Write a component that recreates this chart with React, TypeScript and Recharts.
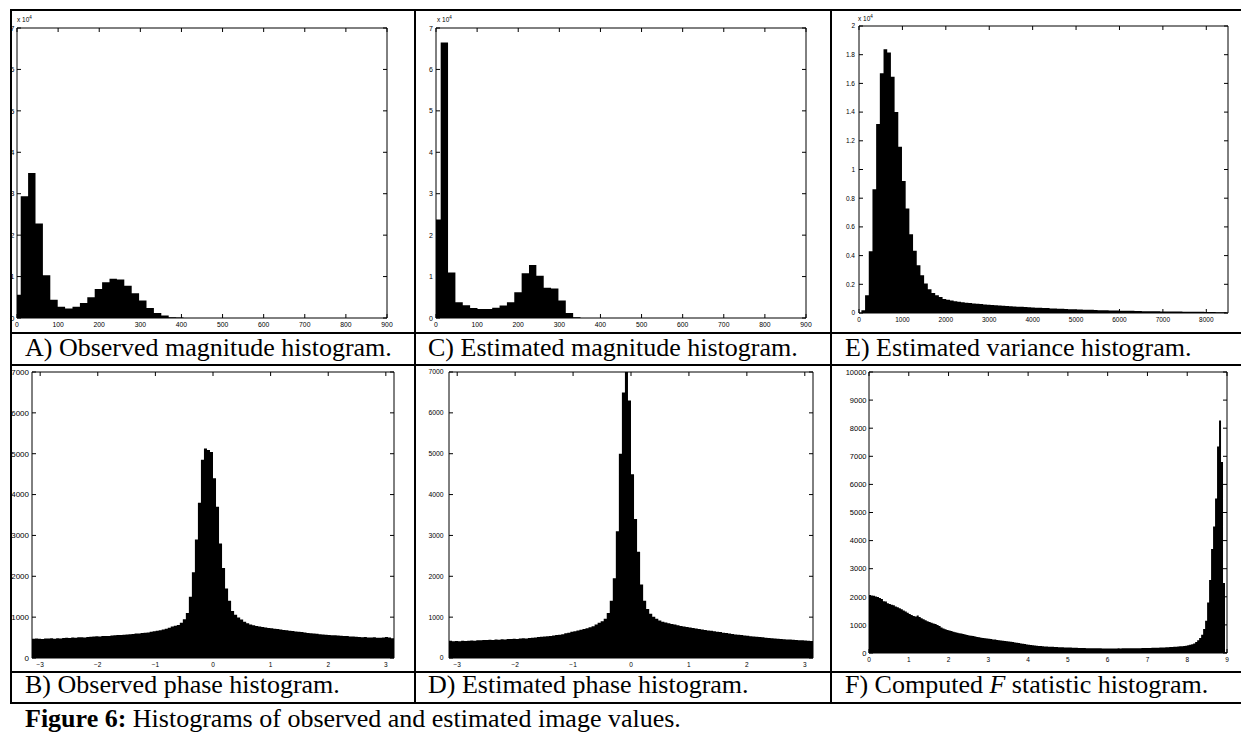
import { AreaChart, Area, XAxis, YAxis } from 'recharts'

// Bin counts. Magnitude and variance panels are in units of 1e4,
// as their y axes are labelled.
const A_BIN_START = -9
const A_BIN_WIDTH = 18
const A_COUNTS = [0.56, 2.94, 3.5, 2.28, 1.03, 0.44, 0.27, 0.23, 0.27, 0.36, 0.5, 0.7, 0.86, 0.95, 0.93, 0.78, 0.6, 0.42, 0.24, 0.12, 0.06, 0.02, 0.01]

const C_BIN_START = -6.5
const C_BIN_WIDTH = 17.9
const C_COUNTS = [2.38, 6.65, 1.1, 0.38, 0.31, 0.24, 0.22, 0.22, 0.25, 0.3, 0.38, 0.62, 1.08, 1.28, 1.02, 0.73, 0.71, 0.42, 0.12, 0.02]

const E_BIN_START = 55
const E_BIN_WIDTH = 85
const E_COUNTS = [
  0.019, 0.123, 0.43, 0.863, 1.317, 1.67, 1.838, 1.815, 1.647, 1.4,
  1.158, 0.92, 0.728, 0.549, 0.433, 0.333, 0.263, 0.205, 0.165, 0.14,
  0.123, 0.112, 0.098, 0.092, 0.087, 0.082, 0.079, 0.075, 0.072, 0.069,
  0.066, 0.064, 0.062, 0.06, 0.058, 0.056, 0.054, 0.052, 0.05, 0.049,
  0.047, 0.046, 0.044, 0.043, 0.041, 0.04, 0.039, 0.037, 0.036, 0.035,
  0.034, 0.032, 0.031, 0.03, 0.029, 0.028, 0.027, 0.026, 0.025, 0.024,
  0.023, 0.023, 0.022, 0.021, 0.02, 0.02, 0.019, 0.018, 0.018, 0.017,
  0.016, 0.016, 0.015, 0.015, 0.014, 0.014, 0.013, 0.013, 0.012, 0.012,
  0.012, 0.011, 0.011, 0.011, 0.01, 0.01, 0.01, 0.009, 0.009, 0.009,
  0.008, 0.008, 0.008, 0.007, 0.007, 0.007, 0.006, 0.006, 0.005,
]

// phase panels: 120 bins over [-pi, pi]
const PHASE_BIN_START = -Math.PI
const PHASE_BIN_WIDTH = (2 * Math.PI) / 120
const B_COUNTS = [
  470, 478, 472, 466, 480, 476, 483, 474, 486, 480,
  490, 494, 488, 501, 496, 505, 510, 503, 514, 518,
  524, 531, 526, 536, 541, 537, 549, 554, 560, 566,
  571, 578, 583, 590, 597, 602, 611, 618, 627, 640,
  652, 664, 680, 698, 716, 742, 768, 790, 810, 860,
  950, 1100, 1500, 2100, 2900, 3800, 4850, 5130, 5090, 5040,
  4400, 3700, 2800, 2200, 1700, 1400, 1150, 1060, 990, 940,
  890, 852, 823, 801, 783, 770, 756, 748, 735, 726,
  716, 707, 700, 688, 681, 668, 662, 650, 642, 634,
  626, 614, 607, 598, 592, 580, 577, 569, 566, 558,
  555, 548, 546, 538, 536, 529, 526, 519, 516, 510,
  512, 503, 500, 507, 498, 494, 502, 511, 503, 486,
]
const D_COUNTS = [
  420, 412, 418, 410, 425, 416, 422, 430, 424, 432,
  436, 441, 438, 447, 443, 452, 449, 458, 455, 462,
  466, 471, 468, 478, 484, 480, 490, 497, 503, 512,
  518, 526, 533, 541, 552, 560, 571, 583, 605, 620,
  640, 655, 672, 690, 710, 730, 752, 780, 820, 860,
  900, 960, 1100, 1400, 1950, 3100, 5000, 6500, 7400, 6300,
  4500, 3400, 2600, 1800, 1400, 1200, 1080, 1010, 960, 920,
  890, 868, 851, 832, 818, 801, 786, 772, 760, 746,
  733, 722, 708, 698, 686, 676, 664, 655, 643, 634,
  620, 611, 598, 590, 578, 570, 561, 552, 544, 534,
  527, 518, 512, 505, 497, 490, 484, 478, 472, 466,
  460, 455, 450, 447, 441, 437, 432, 428, 424, 418,
]

const F_BIN_START = 0
const F_BIN_WIDTH = 0.05
const F_COUNTS = [
  2060, 2045, 2040, 2015, 1995, 1960, 1925, 1845, 1830, 1770,
  1745, 1720, 1695, 1655, 1625, 1590, 1560, 1515, 1480, 1430,
  1385, 1355, 1320, 1295, 1335, 1280, 1235, 1200, 1165, 1130,
  1100, 1075, 1050, 1030, 995, 960, 905, 870, 845, 820,
  800, 785, 760, 742, 720, 704, 690, 672, 655, 641,
  626, 612, 601, 584, 572, 561, 546, 535, 526, 515,
  505, 497, 484, 476, 466, 455, 447, 437, 431, 420,
  412, 401, 391, 377, 366, 353, 341, 330, 319, 306,
  296, 286, 276, 268, 259, 252, 246, 239, 235, 229,
  226, 221, 218, 214, 212, 207, 205, 202, 200, 197,
  195, 193, 190, 186, 185, 181, 180, 177, 176, 173,
  172, 170, 169, 167, 167, 165, 165, 164, 164, 163,
  163, 162, 164, 163, 164, 165, 163, 165, 166, 165,
  166, 167, 168, 167, 170, 171, 172, 174, 175, 178,
  180, 182, 184, 186, 188, 191, 194, 197, 200, 204,
  208, 212, 216, 220, 225, 230, 236, 243, 250, 258,
  275, 290, 310, 340, 390, 450, 530, 650, 850, 1150,
  1800, 2600, 3700, 4500, 5500, 7350, 8270, 6800, 2490, 30,
]

const MAG_X_TICKS = [0, 100, 200, 300, 400, 500, 600, 700, 800, 900]
const MAG_Y_TICKS = [0, 1, 2, 3, 4, 5, 6, 7]
const VAR_X_TICKS = [0, 1000, 2000, 3000, 4000, 5000, 6000, 7000, 8000]
const VAR_Y_TICKS = [0, 0.2, 0.4, 0.6, 0.8, 1, 1.2, 1.4, 1.6, 1.8, 2]
const PHASE_X_TICKS = [-3, -2, -1, 0, 1, 2, 3]
const PHASE_Y_TICKS = [0, 1000, 2000, 3000, 4000, 5000, 6000, 7000]
const F_X_TICKS = [0, 1, 2, 3, 4, 5, 6, 7, 8, 9]
const F_Y_TICKS = [0, 1000, 2000, 3000, 4000, 5000, 6000, 7000, 8000, 9000, 10000]

const SANS = '"Liberation Sans", Arial, sans-serif'
const SERIF = '"Liberation Serif", "Times New Roman", serif'
const TICK_LEN = 4

// histogram as step outline: left edge of each bin, plus a closing edge
function toSteps(start: number, width: number, counts: number[]) {
  const pts = counts.map((c, i) => ({ x: start + i * width, y: c }))
  pts.push({ x: start + counts.length * width, y: 0 })
  return pts
}

const minusFmt = (v: number) => (v < 0 ? `\u2212${-v}` : `${v}`)

// matlab-style tick: short inward mark at the axis position, optional label outside.
// tickSize/tickMargin are 0 so recharts hands us the point on the box edge.
type Side = 'bottom' | 'top' | 'left' | 'right'
function boxTick(side: Side, font = 0, fmt?: (v: number) => string, gap = 3.5) {
  return (p: any) => {
    const { x, y, payload } = p
    const label = font ? (fmt ? fmt(payload.value) : String(payload.value)) : null
    let line
    let text = null
    if (side === 'bottom') {
      line = <line x1={x} x2={x} y1={y} y2={y - TICK_LEN} stroke="#000" />
      if (label) text = <text x={x} y={y + 7 + font * 0.36} textAnchor="middle">{label}</text>
    } else if (side === 'top') {
      line = <line x1={x} x2={x} y1={y} y2={y + TICK_LEN} stroke="#000" />
    } else if (side === 'left') {
      line = <line x1={x} x2={x + TICK_LEN} y1={y} y2={y} stroke="#000" />
      if (label) text = <text x={x - gap} y={y + font * 0.36} textAnchor="end">{label}</text>
    } else {
      line = <line x1={x} x2={x - TICK_LEN} y1={y} y2={y} stroke="#000" />
    }
    return (
      <g fontFamily={SANS} fontSize={font} fill="#000">
        {line}
        {text}
      </g>
    )
  }
}

type HistProps = {
  box: { left: number; top: number; w: number; h: number }
  data: { x: number; y: number }[]
  xDomain: [number, number]
  xTicks: number[]
  yDomain: [number, number]
  yTicks: number[]
  leftW: number
  bottomH: number
  mTop: number
  mRight: number
  xFont: number
  yFont: number
  yGap?: number
  xFmt?: (v: number) => string
}

// top and right axes are 1px strips so they still draw (they close the box)
function Hist({ box, data, xDomain, xTicks, yDomain, yTicks, leftW, bottomH, mTop, mRight, xFont, yFont, yGap, xFmt }: HistProps) {
  const common = { allowDataOverflow: true, interval: 0 as const, tickSize: 0, tickMargin: 0, tickLine: false, stroke: '#000' }
  return (
    <div style={{ position: 'absolute', left: box.left, top: box.top }}>
      <AreaChart width={box.w} height={box.h} data={data} margin={{ top: mTop - 1, right: mRight - 1, bottom: 0, left: 0 }}>
        <XAxis type="number" dataKey="x" domain={xDomain} ticks={xTicks} height={bottomH}
          tick={boxTick('bottom', xFont, xFmt)} {...common} />
        <XAxis xAxisId="top" orientation="top" type="number" dataKey="x" domain={xDomain} ticks={xTicks}
          height={1} tick={boxTick('top')} {...common} />
        <YAxis type="number" domain={yDomain} ticks={yTicks} width={leftW}
          tick={boxTick('left', yFont, undefined, yGap)} {...common} />
        <YAxis yAxisId="right" orientation="right" type="number" domain={yDomain} ticks={yTicks}
          width={1} tick={boxTick('right')} {...common} />
        <Area type="stepAfter" dataKey="y" stroke="none" fill="#000" fillOpacity={1}
          isAnimationActive={false} dot={false} activeDot={false} />
        {/* invisible twin so the top and right box axes have a series */}
        <Area xAxisId="top" yAxisId="right" type="stepAfter" dataKey="y" stroke="none" fill="none"
          isAnimationActive={false} dot={false} activeDot={false} />
      </AreaChart>
    </div>
  )
}

function Exp({ left, top }: { left: number; top: number }) {
  return (
    <div style={{ position: 'absolute', left, top, fontFamily: SANS, fontSize: 6.5, lineHeight: '8px', whiteSpace: 'nowrap' }}>
      x 10<span style={{ fontSize: 4.5, position: 'relative', top: -3 }}>4</span>
    </div>
  )
}

const H_LINES = [9, 332, 364, 671, 702]
const V_LINES = [10, 414, 830]

function Caption({ left, top, children }: { left: number; top: number; children: any }) {
  return (
    <div style={{ position: 'absolute', left, top, fontFamily: SERIF, fontSize: 26, lineHeight: '26px', whiteSpace: 'nowrap' }}>
      {children}
    </div>
  )
}

export default function App() {
  return (
    <div style={{ position: 'absolute', left: 0, top: 0, width: 1241, height: 732, background: '#fff', overflow: 'hidden' }}>
      <Hist box={{ left: 0, top: 0, w: 414, h: 332 }} data={toSteps(A_BIN_START, A_BIN_WIDTH, A_COUNTS)}
        xDomain={[0, 900]} xTicks={MAG_X_TICKS} yDomain={[0, 7]} yTicks={MAG_Y_TICKS}
        leftW={17} bottomH={14} mTop={28} mRight={27} xFont={6.8} yFont={7.5} yGap={2.5} />
      <Exp left={17} top={16} />
      <Hist box={{ left: 414, top: 0, w: 416, h: 332 }} data={toSteps(C_BIN_START, C_BIN_WIDTH, C_COUNTS)}
        xDomain={[0, 900]} xTicks={MAG_X_TICKS} yDomain={[0, 7]} yTicks={MAG_Y_TICKS}
        leftW={22} bottomH={14} mTop={28} mRight={24} xFont={6.8} yFont={7} yGap={3} />
      <Exp left={437} top={16} />
      <Hist box={{ left: 830, top: 0, w: 411, h: 332 }} data={toSteps(E_BIN_START, E_BIN_WIDTH, E_COUNTS)}
        xDomain={[0, 8500]} xTicks={VAR_X_TICKS} yDomain={[0, 2]} yTicks={VAR_Y_TICKS}
        leftW={29} bottomH={19} mTop={26} mRight={13} xFont={6.5} yFont={6.5} yGap={4} />
      <Exp left={858} top={15} />

      <Hist box={{ left: 0, top: 366, w: 414, h: 305 }} data={toSteps(PHASE_BIN_START, PHASE_BIN_WIDTH, B_COUNTS)}
        xDomain={[-Math.PI, Math.PI]} xTicks={PHASE_X_TICKS} yDomain={[0, 7000]} yTicks={PHASE_Y_TICKS}
        leftW={32} bottomH={13} mTop={6} mRight={20} xFont={6.5} yFont={8} yGap={3} xFmt={minusFmt} />
      <Hist box={{ left: 414, top: 366, w: 416, h: 305 }} data={toSteps(PHASE_BIN_START, PHASE_BIN_WIDTH, D_COUNTS)}
        xDomain={[-Math.PI, Math.PI]} xTicks={PHASE_X_TICKS} yDomain={[0, 7000]} yTicks={PHASE_Y_TICKS}
        leftW={35} bottomH={13} mTop={6} mRight={17} xFont={6.5} yFont={6.8} yGap={5.5} xFmt={minusFmt} />
      <Hist box={{ left: 830, top: 366, w: 411, h: 305 }} data={toSteps(F_BIN_START, F_BIN_WIDTH, F_COUNTS)}
        xDomain={[0, 9]} xTicks={F_X_TICKS} yDomain={[0, 10000]} yTicks={F_Y_TICKS}
        leftW={39} bottomH={18} mTop={6} mRight={14} xFont={6.5} yFont={7.5} yGap={2.5} />

      {H_LINES.map((y) => (
        <div key={'h' + y} style={{ position: 'absolute', left: 10, top: y, width: 1231, height: 2, background: '#000' }} />
      ))}
      {V_LINES.map((x) => (
        <div key={'v' + x} style={{ position: 'absolute', left: x, top: 9, width: 2, height: 695, background: '#000' }} />
      ))}

      <Caption left={25} top={335}>A) Observed magnitude histogram.</Caption>
      <Caption left={428} top={335}>C) Estimated magnitude histogram.</Caption>
      <Caption left={845} top={335}>E) Estimated variance histogram.</Caption>
      <Caption left={25} top={672}>B) Observed phase histogram.</Caption>
      <Caption left={428} top={672}>D) Estimated phase histogram.</Caption>
      <Caption left={845} top={672}>F) Computed <i>F</i> statistic histogram.</Caption>
      <Caption left={25} top={706}>
        <b>Figure 6:</b> Histograms of observed and estimated image values.
      </Caption>
    </div>
  )
}
